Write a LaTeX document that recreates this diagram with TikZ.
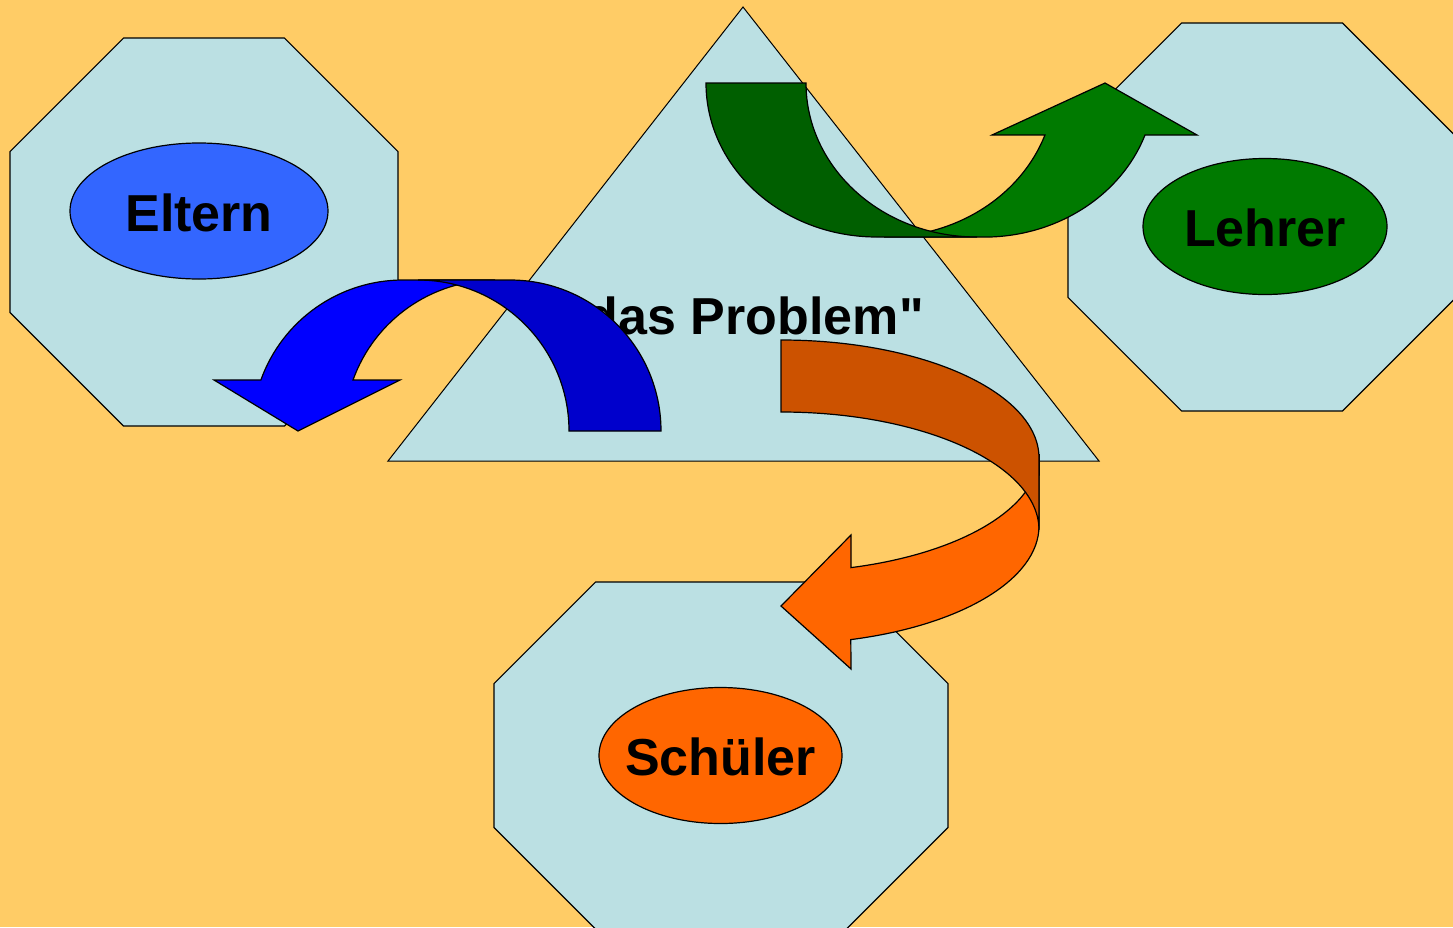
\documentclass[tikz,border=0pt]{standalone}
\usepackage{fontspec}
\setmainfont{Liberation Sans}
\newfontfamily\plainsans{Liberation Sans}
\usetikzlibrary{shapes.geometric}

\definecolor{paper}{HTML}{FFCC66}
\definecolor{panel}{HTML}{BBE0E3}
\definecolor{elternblue}{HTML}{3366FF}
\definecolor{blueFront}{HTML}{0000FF}
\definecolor{blueBack}{HTML}{0000CC}
\definecolor{greenFront}{HTML}{007A00}
\definecolor{greenBack}{HTML}{005F00}
\definecolor{orangeFront}{HTML}{FF6600}
\definecolor{orangeBack}{HTML}{CC5200}

\tikzset{
  panelshape/.style={fill=panel, draw=black, line width=1.2pt, line join=miter},
  roleshape/.style={ellipse, draw=black, line width=1.2pt, inner sep=0pt,
                    minimum width=#1, minimum height=136pt,
                    font=\fontsize{52}{60}\selectfont\bfseries,
                    text height=40pt, text depth=0pt, text width=0pt, align=center},
  curvedband/.style={draw=black, line width=1.2pt, line join=miter},
}

\begin{document}
\begin{tikzpicture}[x=1pt, y=-1pt]
  % page and background
  \useasboundingbox (0,0) rectangle (1453,927);
  \fill[paper] (0,0) rectangle (1453,927);

  % octagonal panels
  \draw[panelshape] (123.6,38) -- (284.4,38) -- (398,151.6) -- (398,312.4)
        -- (284.4,426) -- (123.6,426) -- (10,312.4) -- (10,151.6) -- cycle;
  \draw[panelshape] (1181.6,23) -- (1342.4,23) -- (1456,136.6) -- (1456,297.4)
        -- (1342.4,411) -- (1181.6,411) -- (1068,297.4) -- (1068,136.6) -- cycle;
  \draw[panelshape] (595.6,582) -- (846.4,582) -- (948,683.6) -- (948,827.4)
        -- (846.4,929) -- (595.6,929) -- (494,827.4) -- (494,683.6) -- cycle;

  % central triangle
  \coordinate (apex) at (743,7);
  \coordinate (baseL) at (388,461);
  \coordinate (baseR) at (1099,461);
  \draw[fill=panel, draw=black, line width=1pt] (apex) -- (baseR) -- (baseL) -- cycle;
  \node[font=\plainsans\fontsize{52}{60}\selectfont\bfseries, inner sep=0pt, anchor=base]
        (problem) at (743,334) {"das Problem"};

  % role ellipses
  \node[roleshape=258pt, fill=elternblue] (eltern) at (199,211) {\makebox[0pt]{Eltern}};
  \node[roleshape=244pt, fill=greenFront] (lehrer) at (1265,226.5) {\makebox[0pt]{Lehrer}};
  \node[roleshape=243pt, fill=orangeFront] (schueler) at (720.5,755.5) {\makebox[0pt]{Schüler}};

  % blue curved arrow towards the parents
  \draw[curvedband, fill=blueFront] (403,280)
        arc[start angle=-90, end angle=-160.25, x radius=151, y radius=151]
        -- (214,380) -- (298,431) -- (400,380) -- (353,380)
        arc[start angle=-160.25, end angle=-90, x radius=151, y radius=151]
        -- cycle;
  \draw[curvedband, fill=blueBack] (569,431)
        arc[start angle=0, end angle=-90, x radius=151, y radius=151]
        -- (510,280)
        arc[start angle=-90, end angle=0, x radius=151, y radius=151]
        -- cycle;

  % green curved arrow towards the teachers
  \draw[curvedband, fill=greenFront] (884,237)
        arc[start angle=90, end angle=19.7, x radius=171, y radius=154]
        -- (992,135) -- (1105,83) -- (1197,135) -- (1145,135)
        arc[start angle=19.7, end angle=90, x radius=171, y radius=154]
        -- cycle;
  \draw[curvedband, fill=greenBack] (706,83)
        arc[start angle=180, end angle=90, x radius=171, y radius=154]
        -- (977,237)
        arc[start angle=90, end angle=180, x radius=171, y radius=154]
        -- cycle;

  % orange curved arrow towards the pupils
  \draw[curvedband, fill=orangeFront] (851,567.6)
        arc[start angle=74.3, end angle=0, x radius=258, y radius=118]
        -- (1039,526)
        arc[start angle=0, end angle=74.3, x radius=258, y radius=118]
        -- (851,669) -- (781,606) -- (851,535) -- cycle;
  \draw[curvedband, fill=orangeBack] (781,340)
        arc[start angle=-90, end angle=0, x radius=258, y radius=118]
        -- (1039,530)
        arc[start angle=0, end angle=-90, x radius=258, y radius=118]
        -- cycle;
\end{tikzpicture}
\end{document}
